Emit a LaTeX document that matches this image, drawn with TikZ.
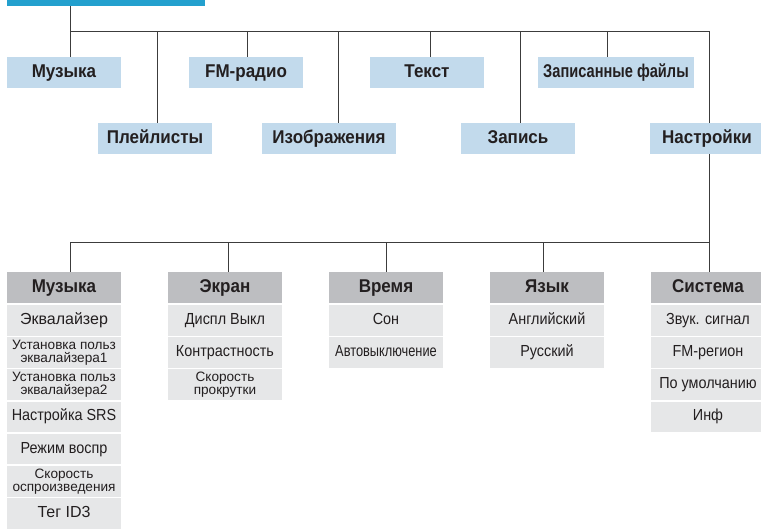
\documentclass[tikz,border=0pt]{standalone}
\usepackage{fontspec}
\setmainfont{Liberation Sans}
\newfontfamily\bfam{Liberation Sans}[FakeStretch=0.92]
\newfontfamily\zfam{Liberation Sans}[FakeStretch=0.79]
\newfontfamily\rfam{Liberation Sans}[FakeStretch=0.9]
\newfontfamily\nfam{Liberation Sans}[FakeStretch=0.8]
\newfontfamily\wfam{Liberation Sans}
\definecolor{barblue}{HTML}{23A0CE}
\definecolor{lblue}{HTML}{C2DAEC}
\definecolor{hdgray}{HTML}{BDBEC1}
\definecolor{itgray}{HTML}{E6E7E8}
\definecolor{txt}{HTML}{231F20}
\definecolor{ln}{HTML}{3C3C3C}
\tikzset{
  lone/.style={fill=lblue, draw=none, inner sep=0pt, minimum width=114pt, minimum height=31pt,
    text=txt, text height=13pt, text depth=3.5pt, font=\bfam\fontsize{18.5}{18.5}\selectfont\bfseries},
  hdbox/.style={fill=hdgray, draw=none, inner sep=0pt, minimum width=114pt, minimum height=30.7pt,
    text=txt, text height=13pt, text depth=3.5pt, font=\bfam\fontsize{18.5}{18.5}\selectfont\bfseries},
  itbox/.style={fill=itgray, draw=none, inner sep=0pt, minimum width=114pt, minimum height=30.5pt,
    text=txt, text height=11.5pt, text depth=3.5pt, font=\rfam\fontsize{16}{16}\selectfont},
  ittwo/.style={fill=itgray, draw=none, inner sep=0pt, minimum width=114pt, minimum height=30.5pt,
    text=txt, align=center, font=\wfam\fontsize{13.6}{13}\selectfont},
  conn/.style={draw=ln, line width=0.9pt},
}
\begin{document}
\begin{tikzpicture}[x=1pt,y=-1pt]
\clip (0,0) rectangle (761,528);
\fill[white] (0,0) rectangle (761,528);
% top bar
\fill[barblue] (7,-25) rectangle (205,6);
\coordinate (top) at (70,6);
% level 1
\node[lone] (m1) at (64,72.5) {Музыка};
\node[lone] (fm) at (246,72.5) {FM-радио};
\node[lone] (tx) at (427,72.5) {Текст};
\node[lone, minimum width=156pt] (zf) at (616,72.5) {\zfam\bfseries Записанные файлы};
\node[lone] (pl) at (155,138.5) {Плейлисты};
\node[lone, minimum width=134pt] (iz) at (329,138.5) {Изображения};
\node[lone] (zp) at (518,138.5) {Запись};
\node[lone] (ns) at (707,138.5) {Настройки};
% bus 1
\coordinate (b1a) at (70,31);
\coordinate (b1b) at (709,31);
\draw[conn] (top) -- (m1.north -| top);
\draw[conn] (b1a) -- (b1b);
\foreach \x/\n in {157/pl, 247/fm, 338/iz, 430/tx, 520/zp, 607/zf, 709/ns}{
  \draw[conn] (\x,31) -- (\n.north -| \x,0);
}
% bus 2
\coordinate (b2a) at (70,242);
\coordinate (b2b) at (709,242);
\draw[conn] (ns.south -| b2b) -- (b2b);
\draw[conn] (b2a) -- (b2b);
% headers
\node[hdbox] (hm) at (64,287.35) {Музыка};
\node[hdbox] (he) at (225,287.35) {Экран};
\node[hdbox] (hv) at (386,287.35) {Время};
\node[hdbox] (hy) at (547,287.35) {Язык};
\node[hdbox] (hs) at (708,287.35) {Система};
\foreach \x/\n in {70/hm, 228/he, 386/hv, 543/hy, 709/hs}{
  \draw[conn] (\x,242) -- (\n.north -| \x,0);
}
% items
\node[itbox] (m_1) at (64,320.25) {\wfam Эквалайзер};
\node[ittwo] (m_2) at (64,352.45) {Установка польз\\эквалайзера1};
\node[ittwo] (m_3) at (64,384.65) {Установка польз\\эквалайзера2};
\node[itbox] (m_4) at (64,416.85) {Настройка SRS};
\node[itbox] (m_5) at (64,449.05) {Режим воспр};
\node[ittwo] (m_6) at (64,481.25) {Скорость\\оспроизведения};
\node[itbox] (m_7) at (64,513.45) {\wfam Тег ID3};
\node[itbox] (e_1) at (225,320.25) {Диспл Выкл};
\node[itbox] (e_2) at (225,352.45) {Контрастность};
\node[ittwo] (e_3) at (225,384.65) {Скорость\\прокрутки};
\node[itbox] (v_1) at (386,320.25) {Сон};
\node[itbox] (v_2) at (386,352.45) {\nfam Автовыключение};
\node[itbox] (y_1) at (547,320.25) {Английский};
\node[itbox] (y_2) at (547,352.45) {Русский};
\node[itbox] (s_1) at (708,320.25) {Звук. сигнал};
\node[itbox] (s_2) at (708,352.45) {FM-регион};
\node[itbox] (s_3) at (708,384.65) {По умолчанию};
\node[itbox] (s_4) at (708,416.85) {Инф};
\end{tikzpicture}
\end{document}
